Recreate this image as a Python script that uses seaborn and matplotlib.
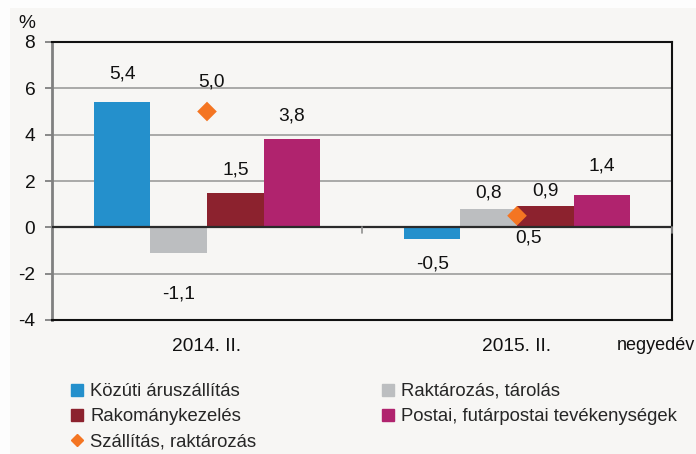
import matplotlib
matplotlib.use("Agg")
import matplotlib.pyplot as plt
import seaborn as sns
import pandas as pd
from matplotlib.lines import Line2D
from matplotlib.patches import Rectangle

# ---- data ----
categories = ["2014. II.", "2015. II."]
series = ["Közúti áruszállítás", "Raktározás, tárolás", "Rakománykezelés",
          "Postai, futárpostai tevékenységek"]
kozuti = [5.4, -0.5]
raktarozas = [-1.1, 0.8]
rakomany = [1.5, 0.9]
postai = [3.8, 1.4]
szallitas_name = "Szállítás, raktározás"
szallitas = [5.0, 0.5]
yticks = [-4, -2, 0, 2, 4, 6, 8]

# ---- styles ----
colors = ["#2490cc", "#bcbec0", "#8c222e", "#b0236e"]
orange = "#f47522"
bg = "#f7f6f4"
# label offsets (points) for each series / category
bar_offsets = [[20, -18], [-30, 11.5], [16.5, 11], [16.5, 21]]
dia_offsets = [(3, 21.5), (8, -16)]

sns.set_theme(style="white")
plt.rcParams['font.family'] = ['Liberation Sans', 'DejaVu Sans']
fs = 13.8
fs_leg = 13.3

values = [kozuti, raktarozas, rakomany, postai]
rows = []
for s, vals in zip(series, values):
    for c, v in zip(categories, vals):
        rows.append({"cat": c, "series": s, "val": v})
df = pd.DataFrame(rows)

fig = plt.figure(figsize=(6.96, 4.54), dpi=100, facecolor="#fdfdfd")
fig.patches.append(Rectangle((10 / 696, 0), 1, (454 - 8) / 454, transform=fig.transFigure,
                             facecolor=bg, edgecolor="none", zorder=-10))
ax = fig.add_axes([52 / 696, (454 - 320) / 454, 620 / 696, 278 / 454])
ax.set_facecolor(bg)

sns.barplot(data=df, x="cat", y="val", hue="series", order=categories, hue_order=series,
            palette=colors, width=0.73, linewidth=0, saturation=1, ax=ax, legend=False, zorder=3)

ax.set_ylim(-4, 8)
ax.set_xlim(-0.5, len(categories) - 0.5)
ax.set_yticks(yticks)
ax.set_yticklabels([str(t) for t in yticks], fontsize=fs, color="#111111")
for t in yticks:
    if t not in (-4, 0, 8):
        ax.axhline(t, color="#a3a3a3", lw=1.3, zorder=1)
ax.axhline(0, color="#2a2a2a", lw=1.6, zorder=4)
ax.tick_params(axis="y", length=5, width=1.3, color="#808080", pad=7, left=True)
ax.set_xticks(range(len(categories)))
ax.set_xticklabels(categories, fontsize=fs, color="#111111")
ax.tick_params(axis="x", length=0, pad=13)
ax.set_xlabel("")
ax.set_ylabel("")
for sp in ["top", "right", "bottom"]:
    ax.spines[sp].set_color("#111111")
    ax.spines[sp].set_linewidth(1.5)
    ax.spines[sp].set_visible(True)
ax.spines["left"].set_color("#808080")
ax.spines["left"].set_linewidth(2)
ax.spines["left"].set_visible(True)

# category divider ticks on zero line
for i in range(len(categories)):
    ax.plot([i + 0.5, i + 0.5], [0, -0.25], color="#909090", lw=1.2, zorder=4, clip_on=False)

# bar labels
for si, cont in enumerate(ax.containers):
    for ci, patch in enumerate(cont.patches):
        v = values[si][ci]
        xc = patch.get_x() + patch.get_width() / 2
        ax.annotate(f"{v:.1f}".replace(".", ","), xy=(xc, v), xytext=(0, bar_offsets[si][ci]),
                    textcoords="offset points", ha="center", va="center",
                    fontsize=fs, color="#111111", zorder=6)

# diamonds
ddf = pd.DataFrame({"cat": categories, "val": szallitas})
sns.scatterplot(data=ddf, x="cat", y="val", marker="D", s=100, color=orange,
                edgecolor="none", linewidth=0, ax=ax, zorder=7, legend=False)
for ci, v in enumerate(szallitas):
    ax.annotate(f"{v:.1f}".replace(".", ","), xy=(ci, v), xytext=dia_offsets[ci],
                textcoords="offset points", ha="center", va="center",
                fontsize=fs, color="#111111", zorder=8)
ax.set_xlabel("")
ax.set_ylabel("")

fig.text(27 / 696, (454 - 23) / 454, "%", fontsize=fs, ha="center", va="center", color="#111111")
fig.text(617 / 696, (454 - 346) / 454, "negyedév", fontsize=13, ha="left", va="center", color="#111111")

def sq(c):
    return Line2D([], [], linestyle="none", marker="s", markersize=8, color=c)

h1 = [sq(colors[0]), sq(colors[2]),
      Line2D([], [], linestyle="none", marker="D", markersize=6.5, color=orange)]
l1 = [series[0], series[2], szallitas_name]
h2 = [sq(colors[1]), sq(colors[3])]
l2 = [series[1], series[3]]
kw = dict(frameon=False, fontsize=fs_leg, handlelength=0.8, handletextpad=0.3,
          labelspacing=0.45, borderpad=0, borderaxespad=0, loc="upper left")
leg1 = fig.legend(h1, l1, bbox_to_anchor=(70 / 696, (454 - 383) / 454), **kw)
leg2 = fig.legend(h2, l2, bbox_to_anchor=(381 / 696, (454 - 383) / 454), **kw)

fig.savefig("out.png", dpi=100, facecolor=fig.get_facecolor())
